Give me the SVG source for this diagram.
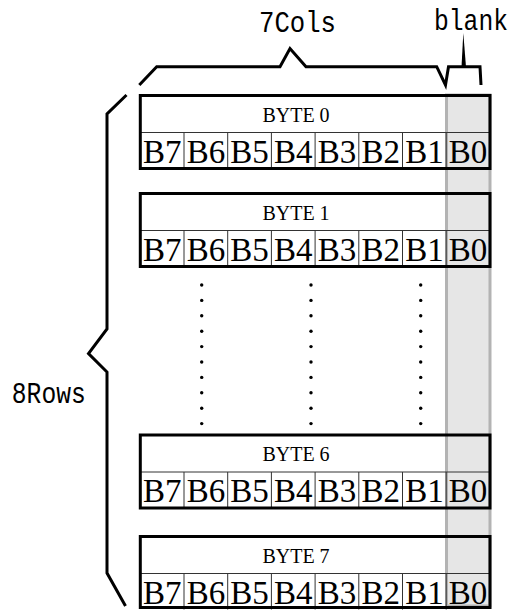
<svg xmlns="http://www.w3.org/2000/svg" width="515" height="610" viewBox="0 0 515 610">
<style>
.frame{fill:none;stroke:#000;stroke-width:3}
.thin{stroke:#333;stroke-width:1}
.brace{fill:none;stroke:#000;stroke-width:3;stroke-linejoin:miter}
.lbl{font-family:"Liberation Serif","Times New Roman",serif;font-size:20px;text-anchor:middle;fill:#000}
.bit{font-family:"Liberation Serif","Times New Roman",serif;font-size:33px;text-anchor:middle;fill:#000}
.mono{font-family:"Liberation Mono","DejaVu Sans Mono",monospace;font-size:27px;text-anchor:middle;fill:#000}
.dot{fill:#000}
</style>
<defs>
<g id="cells">
<line class="thin" x1="140.3" y1="37" x2="490" y2="37"/>
<line class="thin" x1="184" y1="37" x2="184" y2="73"/>
<line class="thin" x1="227.7" y1="37" x2="227.7" y2="73"/>
<line class="thin" x1="271.4" y1="37" x2="271.4" y2="73"/>
<line class="thin" x1="315.1" y1="37" x2="315.1" y2="73"/>
<line class="thin" x1="358.8" y1="37" x2="358.8" y2="73"/>
<line class="thin" x1="402.5" y1="37" x2="402.5" y2="73"/>
<line class="thin" x1="446.2" y1="37" x2="446.2" y2="73"/>
<text class="bit" x="162.2" y="67">B7</text>
<text class="bit" x="205.9" y="67">B6</text>
<text class="bit" x="249.6" y="67">B5</text>
<text class="bit" x="293.3" y="67">B4</text>
<text class="bit" x="337" y="67">B3</text>
<text class="bit" x="380.7" y="67">B2</text>
<text class="bit" x="424.4" y="67">B1</text>
<text class="bit" x="468.1" y="67">B0</text>
</g>
</defs>
<rect id="blank-column" x="446.5" y="95" width="43.5" height="511" fill="#e6e6e6" stroke="#b3b3b3" stroke-width="3"/>
<g id="byte0" transform="translate(0,95.5)">
<use href="#cells"/>
<rect class="frame" x="140.3" y="0" width="349.7" height="73"/>
<text class="lbl" x="296" y="26">BYTE 0</text>
</g>
<g id="byte1" transform="translate(0,193.5)">
<use href="#cells"/>
<rect class="frame" x="140.3" y="0" width="349.7" height="73"/>
<text class="lbl" x="296" y="26">BYTE 1</text>
</g>
<g id="byte6" transform="translate(0,435)">
<use href="#cells"/>
<rect class="frame" x="140.3" y="0" width="349.7" height="73"/>
<text class="lbl" x="296" y="26">BYTE 6</text>
</g>
<g id="byte7" transform="translate(0,536.5)">
<use href="#cells"/>
<rect class="frame" x="140.3" y="0" width="349.7" height="71"/>
<text class="lbl" x="296" y="26">BYTE 7</text>
</g>
<g id="ellipsis">
<g id="dots-a">
<circle class="dot" cx="201.7" cy="285" r="1.7"/><circle class="dot" cx="201.7" cy="300.4" r="1.7"/><circle class="dot" cx="201.7" cy="315.8" r="1.7"/><circle class="dot" cx="201.7" cy="331.2" r="1.7"/><circle class="dot" cx="201.7" cy="346.6" r="1.7"/><circle class="dot" cx="201.7" cy="362" r="1.7"/><circle class="dot" cx="201.7" cy="377.4" r="1.7"/><circle class="dot" cx="201.7" cy="392.8" r="1.7"/><circle class="dot" cx="201.7" cy="408.2" r="1.7"/><circle class="dot" cx="201.7" cy="423.6" r="1.7"/>
</g>
<use href="#dots-a" x="109.3"/>
<use href="#dots-a" x="219"/>
</g>
<g id="connectors">
<path id="brace-cols" class="brace" d="M139.3,85 L156.7,66.7 L280,66.7 L290,48.5 L306,66.7 L436.7,66.7 L445.5,85 L448.5,66.7 L480,66.7 L481,85"/>
<polygon id="brace-blank-tip" points="461.5,67 463.3,33 466,67" fill="#000"/>
<path id="brace-rows" class="brace" d="M126.5,95 L107,114 L107,329 L88.5,353.5 L107,372 L107,573 L125.5,606"/>
</g>
<g id="label-7cols"><text class="mono" transform="scale(1,1.12)" x="297.5" y="29" textLength="77" lengthAdjust="spacingAndGlyphs">7Cols</text></g>
<g id="label-blank"><text class="mono" transform="scale(1,1.12)" x="471" y="27.2" textLength="74" lengthAdjust="spacingAndGlyphs">blank</text></g>
<g id="label-8rows"><text class="mono" transform="scale(1,1.12)" x="48.8" y="359.4" textLength="74" lengthAdjust="spacingAndGlyphs">8Rows</text></g>
</svg>
